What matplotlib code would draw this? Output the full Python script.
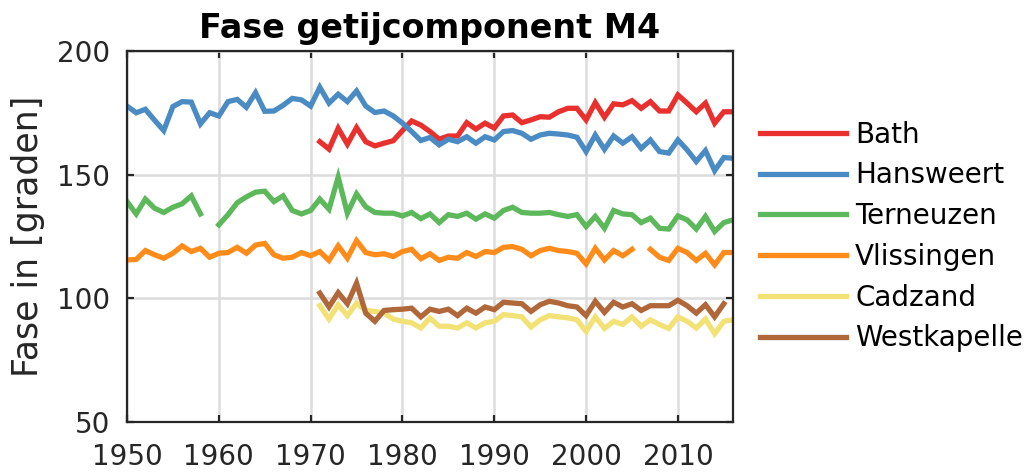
import numpy as np
import matplotlib
matplotlib.use("Agg")
import matplotlib.pyplot as plt

plt.rcParams['font.family'] = ['DejaVu Sans']

nan = np.nan
years = list(range(1950, 2017))

bath_years = list(range(1971, 2017))
bath = [163.3, 160.3, 168.7, 162.3, 169.0, 163.3, 161.6, 162.7, 163.7, 167.8,
        171.7, 170.0, 167.4, 164.3, 165.6, 165.6, 171.0, 168.4, 170.8, 168.8,
        173.7, 174.1, 171.0, 172.1, 173.4, 173.2, 175.4, 176.8, 176.8, 172.1,
        179.1, 173.2, 178.6, 178.2, 179.9, 176.8, 179.5, 175.7, 175.7, 182.2,
        178.9, 175.4, 178.9, 170.8, 175.4, 175.4]

hansweert = [177.7, 175.0, 176.4, 172.0, 167.8, 177.5, 179.5, 179.3, 170.5, 175.0,
             173.7, 179.5, 180.4, 177.2, 183.1, 175.6, 175.7, 178.0, 180.8, 180.2,
             177.7, 185.3, 178.9, 182.5, 179.5, 183.8, 177.7, 175.1, 175.7, 173.7,
             170.8, 167.4, 163.8, 165.0, 162.0, 164.3, 163.3, 165.3, 162.7, 165.3,
             164.0, 167.4, 167.8, 166.7, 164.3, 166.0, 166.7, 166.4, 166.0, 165.1,
             159.3, 166.0, 160.2, 165.6, 162.7, 165.3, 160.6, 164.0, 159.3, 158.7,
             164.0, 160.0, 155.3, 159.7, 151.6, 156.9, 156.6]

terneuzen = [139.1, 134.1, 140.1, 136.4, 134.7, 136.8, 138.2, 141.4, 134.1, nan,
             129.7, 133.8, 138.6, 141.0, 142.9, 143.3, 139.1, 141.4, 135.5, 134.1,
             135.5, 140.1, 136.0, 149.0, 134.4, 142.2, 137.0, 134.7, 134.4, 134.4,
             133.3, 134.7, 132.2, 134.1, 130.6, 133.8, 133.1, 134.4, 132.0, 134.1,
             132.4, 135.5, 136.8, 134.7, 134.4, 134.4, 134.7, 133.8, 133.1, 133.8,
             129.0, 133.1, 128.3, 135.5, 134.1, 133.8, 130.6, 132.4, 128.3, 128.0,
             133.3, 131.7, 128.0, 133.1, 127.0, 130.6, 131.7]

vlissingen = [115.5, 115.7, 119.3, 117.6, 116.2, 118.2, 121.2, 118.9, 120.2, 116.6,
              118.2, 118.5, 120.6, 118.2, 121.5, 122.2, 117.6, 116.2, 116.6, 118.5,
              117.2, 118.9, 115.3, 121.2, 116.2, 123.3, 118.5, 117.6, 118.0, 116.9,
              118.9, 119.8, 116.0, 118.0, 115.3, 116.6, 116.2, 118.5, 116.9, 118.9,
              118.5, 120.6, 120.9, 119.8, 117.2, 119.3, 120.2, 119.3, 118.9, 118.2,
              113.9, 120.2, 115.5, 119.3, 117.2, 119.8, nan, 119.8, 116.6, 115.3,
              120.2, 118.5, 115.3, 118.2, 113.5, 118.5, 118.5]

cadzand_years = list(range(1971, 2017))
cadzand = [97.0, 91.6, 97.4, 93.0, 98.0, 95.1, 94.7, 94.0, 91.6, 90.7,
           90.1, 88.0, 92.0, 88.7, 88.7, 88.0, 90.1, 88.0, 90.1, 90.7,
           93.4, 93.0, 92.5, 88.4, 91.3, 93.0, 92.5, 92.1, 91.3, 86.6,
           92.5, 87.8, 90.7, 89.4, 92.5, 88.7, 91.3, 89.4, 87.8, 92.5,
           90.7, 88.0, 91.6, 85.7, 90.7, 91.3]

westkapelle_years = list(range(1971, 2016))
westkapelle = [102.1, 96.5, 102.3, 97.8, 106.1, 94.0, 90.7, 95.1, 95.4, 95.6,
               96.0, 92.5, 95.6, 94.7, 95.6, 93.0, 96.0, 94.0, 96.5, 95.4,
               98.4, 98.1, 97.8, 94.7, 97.4, 98.8, 98.1, 97.0, 96.5, 93.0,
               98.8, 94.3, 98.4, 96.5, 97.8, 95.1, 97.0, 97.0, 97.0, 99.2,
               97.0, 94.0, 97.4, 92.5, 97.8]

series = [
    ("Bath", bath_years, bath, "#e8302f"),
    ("Hansweert", years, hansweert, "#4a8bc4"),
    ("Terneuzen", years, terneuzen, "#5cb85a"),
    ("Vlissingen", years, vlissingen, "#ff8c1a"),
    ("Cadzand", cadzand_years, cadzand, "#f2e276"),
    ("Westkapelle", westkapelle_years, westkapelle, "#b0673a"),
]

xticks = [1950, 1960, 1970, 1980, 1990, 2000, 2010]
yticks = [50, 100, 150, 200]

fig = plt.figure(figsize=(10.26, 4.75), dpi=100)
ax = fig.add_axes([127/1026, 1-422/475, 606/1026, (422-50.9)/475])

for name, xs, ys, col in series:
    ax.plot(xs, ys, color=col, lw=3.8, label=name, solid_joinstyle='miter')

ax.set_xlim(1950, 2016)
ax.set_ylim(50, 200)
ax.set_xticks(xticks)
ax.set_yticks(yticks)
ax.grid(True, color='#dcdcdc', lw=1.8)
ax.set_axisbelow(True)
for sp in ax.spines.values():
    sp.set_color('#262626')
    sp.set_linewidth(1.6)
ax.tick_params(direction='in', length=5, width=1.6, color='#262626',
               top=True, right=True, labelsize=20, labelcolor='#262626')
ax.tick_params(axis='x', pad=15)
ax.tick_params(axis='y', pad=12)

ax.set_ylabel("Fase in [graden]", fontsize=25, color='#262626', labelpad=9)
ax.set_title("Fase getijcomponent M4", fontsize=24, fontweight='bold', pad=9)

leg = ax.legend(loc='center left', bbox_to_anchor=(1.0446, 0.5), frameon=False,
                fontsize=20, handlelength=3.1, handletextpad=0.32,
                labelspacing=0.46, borderaxespad=0, borderpad=0)

fig.savefig("out.png", dpi=100)
